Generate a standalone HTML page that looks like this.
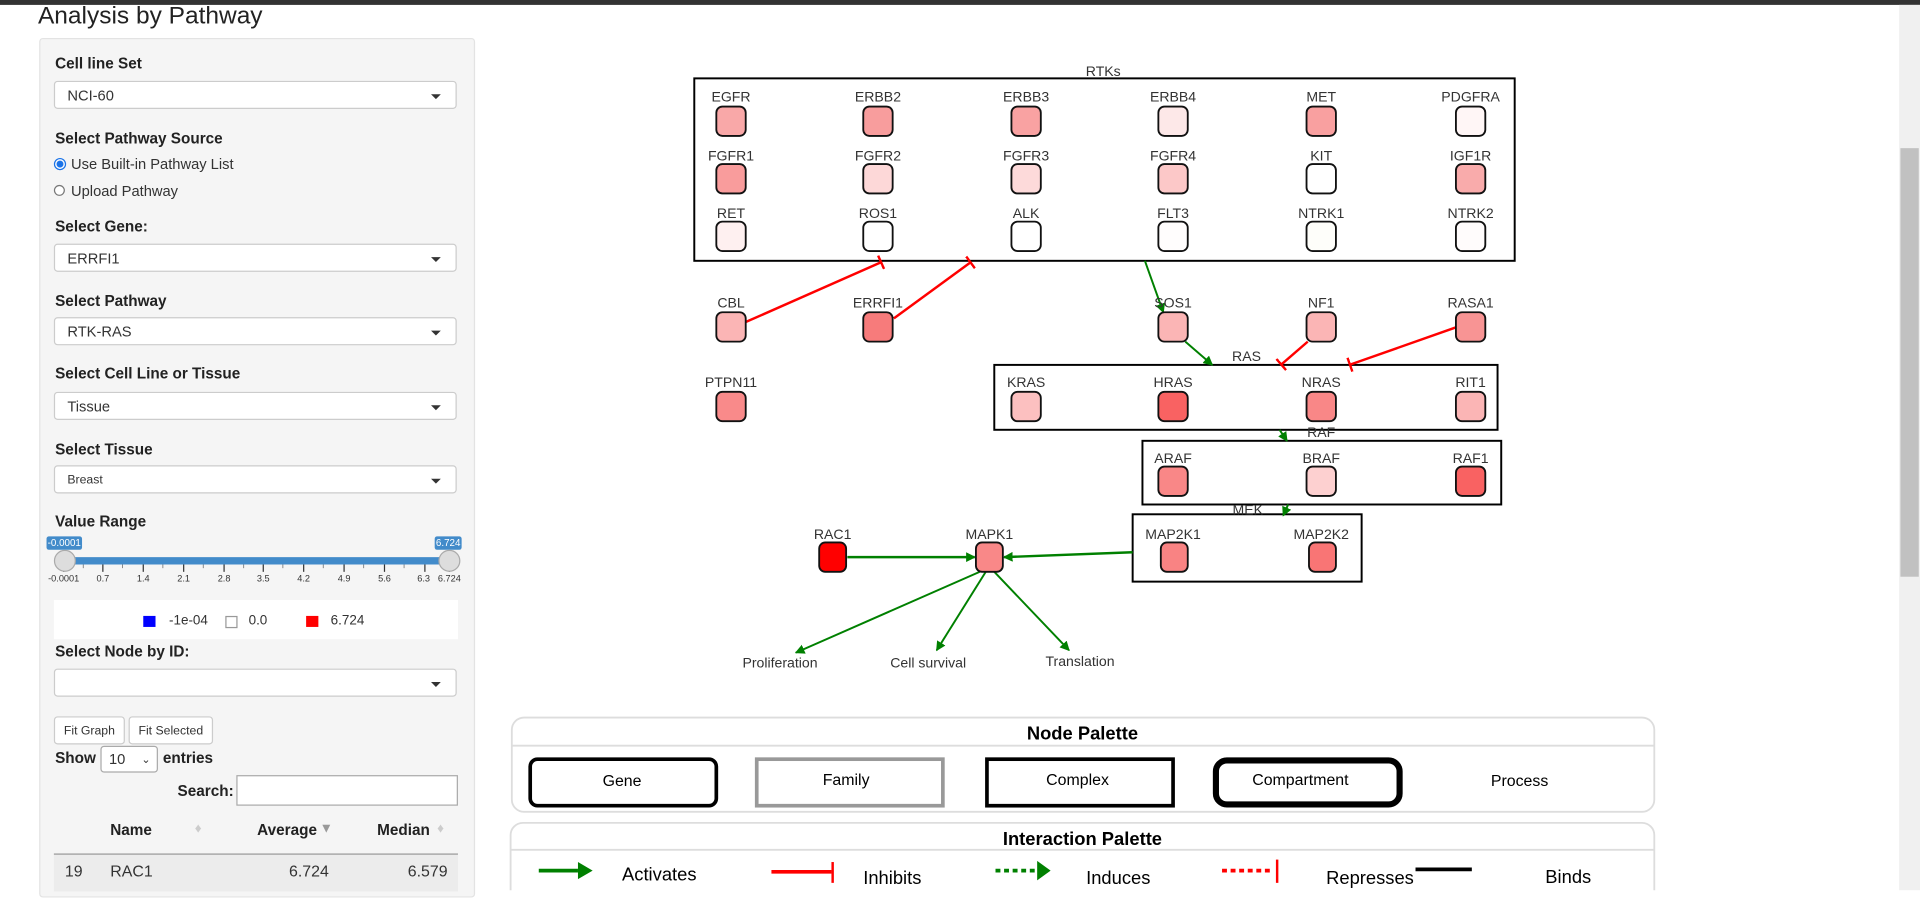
<!DOCTYPE html>
<html><head><meta charset="utf-8">
<style>
html,body{margin:0;padding:0;width:1920px;height:889px;overflow:hidden;background:#fff;}
#w{position:absolute;left:0;top:0;width:1568px;height:727px;transform:scale(1.22449);transform-origin:0 0;font-family:"Liberation Sans",Arial,sans-serif;color:#333;}
.a{position:absolute;}
.lb{position:absolute;left:45px;font-weight:bold;font-size:12.5px;color:#222;}
.sel{position:absolute;left:44px;width:329px;height:23px;background:#fff;border:1px solid #ccc;border-radius:3px;font-size:12px;line-height:23px;box-sizing:border-box;padding-left:10px;color:#333;}
.sel:after{content:"";position:absolute;right:12px;top:10px;border-left:4px solid transparent;border-right:4px solid transparent;border-top:4px solid #333;}
.btn{position:absolute;top:585px;height:23px;background:#fff;border:1px solid #ccc;border-radius:3px;font-size:10px;line-height:23px;text-align:center;box-sizing:border-box;}
</style></head><body><div id="w">
<div class="a" style="left:0;top:0;width:1568px;height:4px;background:#333"></div>
<div class="a" style="left:31px;top:0px;font-size:20px;color:#222;line-height:26px">Analysis by Pathway</div>
<div class="a" style="left:32px;top:31px;width:354px;height:700px;background:#f5f5f5;border:1px solid #e3e3e3;border-radius:3px"></div>
<div class="lb" style="top:45px">Cell line Set</div>
<div class="sel" style="top:66px">NCI-60</div>
<div class="lb" style="top:106px">Select Pathway Source</div>
<div class="a" style="left:44px;top:129px;width:8px;height:8px;border-radius:50%;border:1px solid #1a73e8;background:radial-gradient(#1a73e8 45%,#fff 55%)"></div>
<div class="a" style="left:58px;top:127px;font-size:12px">Use Built-in Pathway List</div>
<div class="a" style="left:44px;top:151px;width:7px;height:7px;border-radius:50%;border:1px solid #777;background:#fff"></div>
<div class="a" style="left:58px;top:149px;font-size:12px">Upload Pathway</div>
<div class="lb" style="top:178px">Select Gene:</div>
<div class="sel" style="top:199px">ERRFI1</div>
<div class="lb" style="top:239px">Select Pathway</div>
<div class="sel" style="top:259px">RTK-RAS</div>
<div class="lb" style="top:298px">Select Cell Line or Tissue</div>
<div class="sel" style="top:320px">Tissue</div>
<div class="lb" style="top:360px">Select Tissue</div>
<div class="sel" style="top:380px;font-size:10px">Breast</div>
<div class="lb" style="top:419px">Value Range</div>
<div class="a" style="left:38px;top:438px;width:29px;height:11px;background:#428bca;border-radius:2px;color:#fff;font-size:8px;line-height:11px;text-align:center">-0.0001</div>
<div class="a" style="left:355px;top:438px;width:22px;height:11px;background:#428bca;border-radius:2px;color:#fff;font-size:8px;line-height:11px;text-align:center">6.724</div>
<div class="a" style="left:55px;top:455px;width:312px;height:6px;background:#428bca"></div>
<svg class="a" style="left:0;top:0" width="390" height="490">
<g stroke="#333" stroke-width="1">
<line x1="52" y1="461" x2="52" y2="467"/><line x1="84" y1="461" x2="84" y2="467"/><line x1="117" y1="461" x2="117" y2="467"/><line x1="150" y1="461" x2="150" y2="467"/><line x1="183" y1="461" x2="183" y2="467"/><line x1="215" y1="461" x2="215" y2="467"/><line x1="248" y1="461" x2="248" y2="467"/><line x1="281" y1="461" x2="281" y2="467"/><line x1="314" y1="461" x2="314" y2="467"/><line x1="347" y1="461" x2="347" y2="467"/><line x1="367" y1="461" x2="367" y2="467"/>
</g>
<g stroke="#777" stroke-width="0.7">
<line x1="68" y1="461" x2="68" y2="464"/><line x1="100" y1="461" x2="100" y2="464"/><line x1="133" y1="461" x2="133" y2="464"/><line x1="166" y1="461" x2="166" y2="464"/><line x1="199" y1="461" x2="199" y2="464"/><line x1="231" y1="461" x2="231" y2="464"/><line x1="264" y1="461" x2="264" y2="464"/><line x1="297" y1="461" x2="297" y2="464"/><line x1="330" y1="461" x2="330" y2="464"/>
</g>
<g font-size="7.5" fill="#333" text-anchor="middle" font-family="Liberation Sans">
<text x="52" y="475">-0.0001</text><text x="84" y="475">0.7</text><text x="117" y="475">1.4</text><text x="150" y="475">2.1</text><text x="183" y="475">2.8</text><text x="215" y="475">3.5</text><text x="248" y="475">4.2</text><text x="281" y="475">4.9</text><text x="314" y="475">5.6</text><text x="346" y="475">6.3</text><text x="367" y="475">6.724</text>
</g></svg>
<div class="a" style="left:44px;top:449px;width:16px;height:16px;border-radius:50%;background:#ddd;border:1px solid #aaa"></div>
<div class="a" style="left:358px;top:449px;width:16px;height:16px;border-radius:50%;background:#ddd;border:1px solid #aaa"></div>
<div class="a" style="left:44px;top:490px;width:330px;height:32px;background:#fff"></div>
<div class="a" style="left:117px;top:503px;width:10px;height:9px;background:#00f"></div>
<div class="a" style="left:138px;top:501px;font-size:11px">-1e-04</div>
<div class="a" style="left:184px;top:503px;width:8px;height:8px;border:1px solid #999;background:#fff"></div>
<div class="a" style="left:203px;top:501px;font-size:11px">0.0</div>
<div class="a" style="left:250px;top:503px;width:10px;height:9px;background:#f00"></div>
<div class="a" style="left:270px;top:501px;font-size:11px">6.724</div>
<div class="lb" style="top:525px">Select Node by ID:</div>
<div class="sel" style="top:546px"></div>
<div class="btn" style="left:44px;width:58px">Fit Graph</div>
<div class="btn" style="left:105px;width:69px">Fit Selected</div>
<div class="lb" style="top:612px">Show</div>
<div class="a" style="left:82px;top:609px;width:47px;height:22px;border:1px solid #aaa;border-radius:3px;box-sizing:border-box;background:#fff;font-size:12px;line-height:20px;padding-left:6px">10 <span style="position:absolute;right:5px;font-size:9px">&#8964;</span></div>
<div class="lb" style="left:133px;top:612px">entries</div>
<div class="lb" style="left:145px;top:639px">Search:</div>
<div class="a" style="left:193px;top:633px;width:181px;height:25px;border:1px solid #aaa;background:#fff;box-sizing:border-box"></div>
<div class="lb" style="left:90px;top:671px">Name</div>
<div class="a" style="left:159px;top:671px;color:#ccc;font-size:11px">&#9830;</div>
<div class="lb" style="left:210px;top:671px">Average</div>
<div class="a" style="left:261px;top:671px;color:#999;font-size:11px">&#9660;</div>
<div class="lb" style="left:308px;top:671px">Median</div>
<div class="a" style="left:357px;top:671px;color:#ccc;font-size:11px">&#9830;</div>
<div class="a" style="left:44px;top:697px;width:330px;height:30px;background:#ececec;border-top:1px solid #999"></div>
<div class="a" style="left:53px;top:704px;font-size:13px">19</div>
<div class="a" style="left:90px;top:704px;font-size:13px">RAC1</div>
<div class="a" style="left:236px;top:704px;font-size:13px">6.724</div>
<div class="a" style="left:333px;top:704px;font-size:13px">6.579</div>
<div class="a" style="left:1551px;top:4px;width:17px;height:723px;background:#f0f0f0"></div>
<div class="a" style="left:1552px;top:121px;width:15px;height:350px;background:#c1c1c1"></div>

<svg class="a" style="left:0;top:0" width="1568" height="727" font-family="Liberation Sans" font-size="11.5">
<defs>
<marker id="ga" markerWidth="8" markerHeight="8" refX="7" refY="4" orient="auto" markerUnits="userSpaceOnUse"><path d="M0,0 L8,4 L0,8 Z" fill="#008000"/></marker>
<marker id="ri" markerWidth="3" markerHeight="12" refX="1.5" refY="6" orient="auto" markerUnits="userSpaceOnUse"><rect x="0" y="0" width="2" height="12" fill="#f00"/></marker>
</defs>
<g fill="none" stroke="#000" stroke-width="1.6">
<rect x="567" y="64" width="670" height="149"/>
<rect x="812" y="298" width="411" height="53"/>
<rect x="933" y="360" width="293" height="52"/>
<rect x="925" y="420" width="187" height="55"/>
</g>
<g fill="#333" text-anchor="middle">
<text x="901" y="62">RTKs</text><text x="1018" y="295">RAS</text><text x="1079" y="357">RAF</text><text x="1019" y="420">MEK</text>
</g>
<g stroke-width="2" fill="none">
<line x1="609" y1="263" x2="720" y2="214" stroke="#f00" marker-end="url(#ri)"/>
<line x1="730" y1="260" x2="793" y2="214" stroke="#f00" marker-end="url(#ri)"/>
<line x1="1068" y1="279" x2="1046" y2="298" stroke="#f00" marker-end="url(#ri)"/>
<line x1="1190" y1="267" x2="1102" y2="298" stroke="#f00" marker-end="url(#ri)"/>
<line x1="935" y1="213" x2="950" y2="255" stroke="#008000" stroke-width="1.6" marker-end="url(#ga)"/>
<line x1="968" y1="279" x2="990" y2="298" stroke="#008000" stroke-width="1.6" marker-end="url(#ga)"/>
<line x1="1045" y1="351" x2="1051" y2="360" stroke="#008000" stroke-width="1.6" marker-end="url(#ga)"/>
<line x1="1052" y1="412" x2="1048" y2="421" stroke="#008000" stroke-width="1.6" marker-end="url(#ga)"/>
<line x1="692" y1="455" x2="796" y2="455" stroke="#008000" marker-end="url(#ga)"/>
<line x1="925" y1="451" x2="820" y2="455" stroke="#008000" marker-end="url(#ga)"/>
<line x1="800" y1="467" x2="650" y2="533" stroke="#008000" stroke-width="1.6" marker-end="url(#ga)"/>
<line x1="805" y1="467" x2="765" y2="531" stroke="#008000" stroke-width="1.6" marker-end="url(#ga)"/>
<line x1="812" y1="467" x2="873" y2="531" stroke="#008000" stroke-width="1.6" marker-end="url(#ga)"/>
</g>
<g stroke="#111" stroke-width="1.5">
<rect x="585" y="87" width="24" height="24" rx="5" fill="#f9a8a8"/>
<rect x="705" y="87" width="24" height="24" rx="5" fill="#f89d9d"/>
<rect x="826" y="87" width="24" height="24" rx="5" fill="#f9a2a2"/>
<rect x="946" y="87" width="24" height="24" rx="5" fill="#fde8e8"/>
<rect x="1067" y="87" width="24" height="24" rx="5" fill="#f9a0a0"/>
<rect x="1189" y="87" width="24" height="24" rx="5" fill="#fff6f6"/>
<rect x="585" y="134" width="24" height="24" rx="5" fill="#f99c9c"/>
<rect x="705" y="134" width="24" height="24" rx="5" fill="#fdd8d8"/>
<rect x="826" y="134" width="24" height="24" rx="5" fill="#fddada"/>
<rect x="946" y="134" width="24" height="24" rx="5" fill="#fcc8c8"/>
<rect x="1067" y="134" width="24" height="24" rx="5" fill="#fff"/>
<rect x="1189" y="134" width="24" height="24" rx="5" fill="#f9abab"/>
<rect x="585" y="181" width="24" height="24" rx="5" fill="#fef0f0"/>
<rect x="705" y="181" width="24" height="24" rx="5" fill="#fff"/>
<rect x="826" y="181" width="24" height="24" rx="5" fill="#fff"/>
<rect x="946" y="181" width="24" height="24" rx="5" fill="#fffdfd"/>
<rect x="1067" y="181" width="24" height="24" rx="5" fill="#fefefa"/>
<rect x="1189" y="181" width="24" height="24" rx="5" fill="#fffcfc"/>
<rect x="585" y="255" width="24" height="24" rx="5" fill="#fbb5b5"/>
<rect x="705" y="255" width="24" height="24" rx="5" fill="#f77b7b"/>
<rect x="946" y="255" width="24" height="24" rx="5" fill="#fbb5b5"/>
<rect x="1067" y="255" width="24" height="24" rx="5" fill="#fbb5b5"/>
<rect x="1189" y="255" width="24" height="24" rx="5" fill="#f89494"/>
<rect x="585" y="320" width="24" height="24" rx="5" fill="#f98a8a"/>
<rect x="826" y="320" width="24" height="24" rx="5" fill="#fcc0c0"/>
<rect x="946" y="320" width="24" height="24" rx="5" fill="#f96262"/>
<rect x="1067" y="320" width="24" height="24" rx="5" fill="#f98787"/>
<rect x="1189" y="320" width="24" height="24" rx="5" fill="#fbb5b5"/>
<rect x="946" y="381" width="24" height="24" rx="5" fill="#f98787"/>
<rect x="1067" y="381" width="24" height="24" rx="5" fill="#fdd0d0"/>
<rect x="1189" y="381" width="24" height="24" rx="5" fill="#f96262"/>
<rect x="948" y="443" width="22" height="24" rx="5" fill="#f98383"/>
<rect x="1069" y="443" width="22" height="24" rx="5" fill="#f97575"/>
<rect x="669" y="443" width="22" height="24" rx="5" fill="#f00"/>
<rect x="797" y="443" width="22" height="24" rx="5" fill="#f98888"/>
</g>
<g fill="#333" text-anchor="middle">
<text x="597" y="83">EGFR</text><text x="717" y="83">ERBB2</text><text x="838" y="83">ERBB3</text><text x="958" y="83">ERBB4</text><text x="1079" y="83">MET</text><text x="1201" y="83">PDGFRA</text>
<text x="597" y="131">FGFR1</text><text x="717" y="131">FGFR2</text><text x="838" y="131">FGFR3</text><text x="958" y="131">FGFR4</text><text x="1079" y="131">KIT</text><text x="1201" y="131">IGF1R</text>
<text x="597" y="178">RET</text><text x="717" y="178">ROS1</text><text x="838" y="178">ALK</text><text x="958" y="178">FLT3</text><text x="1079" y="178">NTRK1</text><text x="1201" y="178">NTRK2</text>
<text x="597" y="251">CBL</text><text x="717" y="251">ERRFI1</text><text x="958" y="251">SOS1</text><text x="1079" y="251">NF1</text><text x="1201" y="251">RASA1</text>
<text x="597" y="316">PTPN11</text><text x="838" y="316">KRAS</text><text x="958" y="316">HRAS</text><text x="1079" y="316">NRAS</text><text x="1201" y="316">RIT1</text>
<text x="958" y="378">ARAF</text><text x="1079" y="378">BRAF</text><text x="1201" y="378">RAF1</text>
<text x="958" y="440">MAP2K1</text><text x="1079" y="440">MAP2K2</text><text x="680" y="440">RAC1</text><text x="808" y="440">MAPK1</text>
<text x="637" y="545">Proliferation</text><text x="758" y="545">Cell survival</text><text x="882" y="544">Translation</text>
</g>
<rect x="418" y="586" width="933" height="77" rx="10" fill="#fff" stroke="#ddd" stroke-width="1.5"/>
<line x1="418" y1="609" x2="1351" y2="609" stroke="#ddd" stroke-width="1.5"/>
<text x="884" y="604" text-anchor="middle" font-weight="bold" font-size="15" fill="#000">Node Palette</text>
<rect x="433" y="620" width="152" height="38" rx="6" fill="#fff" stroke="#000" stroke-width="3"/>
<rect x="618" y="620" width="152" height="38" fill="#fff" stroke="#999" stroke-width="3"/>
<rect x="806" y="620" width="152" height="38" fill="#fff" stroke="#000" stroke-width="3"/>
<rect x="993" y="621" width="150" height="36" rx="9" fill="#fff" stroke="#000" stroke-width="5"/>
<g text-anchor="middle" font-size="13" fill="#000">
<text x="508" y="642">Gene</text><text x="691" y="641">Family</text><text x="880" y="641">Complex</text><text x="1062" y="641">Compartment</text><text x="1241" y="642">Process</text>
</g>
<rect x="417" y="672" width="934" height="70" rx="10" fill="#fff" stroke="#ddd" stroke-width="1.5"/>
<line x1="417" y1="694" x2="1351" y2="694" stroke="#ddd" stroke-width="1.5"/>
<text x="884" y="690" text-anchor="middle" font-weight="bold" font-size="15" fill="#000">Interaction Palette</text>
<line x1="440" y1="711" x2="472" y2="711" stroke="#008000" stroke-width="3"/>
<path d="M472,704 L484,711 L472,718 Z" fill="#008000"/>
<line x1="630" y1="712" x2="679" y2="712" stroke="#f00" stroke-width="3"/>
<line x1="680" y1="704" x2="680" y2="721" stroke="#f00" stroke-width="2"/>
<line x1="813" y1="711" x2="845" y2="711" stroke="#008000" stroke-width="3" stroke-dasharray="4,3"/>
<path d="M847,703 L858,711 L847,719 Z" fill="#008000"/>
<line x1="998" y1="711" x2="1040" y2="711" stroke="#f00" stroke-width="3" stroke-dasharray="4,3"/>
<line x1="1043" y1="702" x2="1043" y2="721" stroke="#f00" stroke-width="2"/>
<line x1="1156" y1="710" x2="1202" y2="710" stroke="#000" stroke-width="3"/>
<g font-size="15" fill="#000">
<text x="508" y="719">Activates</text><text x="705" y="722">Inhibits</text><text x="887" y="722">Induces</text><text x="1083" y="722">Represses</text><text x="1262" y="721">Binds</text>
</g>
</svg>
</div></body></html>
